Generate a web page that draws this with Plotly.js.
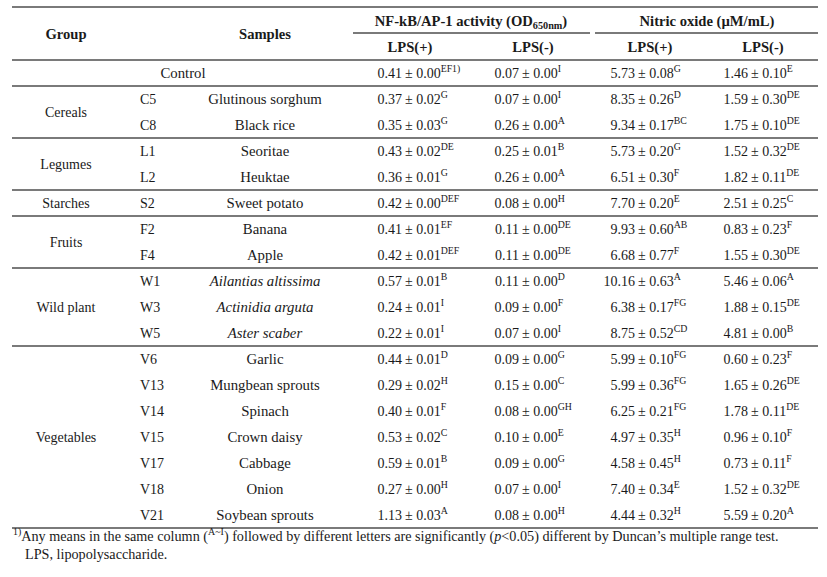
<!DOCTYPE html>
<html><head><meta charset="utf-8">
<script src="https://cdn.plot.ly/plotly-3.0.1.min.js"></script>
<style>html,body{margin:0;padding:0;background:#fff}</style>
</head><body><div id="chart" style="width:827px;height:577px"></div>
<script>
// ---- data ----
const groupNames = ["Cereals","Legumes","Starches","Fruits","Wild plant","Vegetables"];
const groupFirstRow = [1,3,5,6,8,11];
const groupLastRow = [2,4,5,7,10,17];
const codes = ["","C5","C8","L1","L2","S2","F2","F4","W1","W3","W5","V6","V13","V14","V15","V17","V18","V21"];
const samples = ["Control","Glutinous sorghum","Black rice","Seoritae","Heuktae","Sweet potato","Banana","Apple",
  "Ailantias altissima","Actinidia arguta","Aster scaber","Garlic","Mungbean sprouts","Spinach","Crown daisy","Cabbage","Onion","Soybean sprouts"];
const italicSample = [0,0,0,0,0,0,0,0,1,1,1,0,0,0,0,0,0,0];
const nfPlusMean = ["0.41","0.37","0.35","0.43","0.36","0.42","0.41","0.42","0.57","0.24","0.22","0.44","0.29","0.40","0.53","0.59","0.27","1.13"];
const nfPlusSD = ["0.00","0.02","0.03","0.02","0.01","0.00","0.01","0.01","0.01","0.01","0.01","0.01","0.02","0.01","0.02","0.01","0.00","0.03"];
const nfPlusLet = ["EF1)","G","G","DE","G","DEF","EF","DEF","B","I","I","D","H","F","C","B","H","A"];
const nfMinusMean = ["0.07","0.07","0.26","0.25","0.26","0.08","0.11","0.11","0.11","0.09","0.07","0.09","0.15","0.08","0.10","0.09","0.07","0.08"];
const nfMinusSD = ["0.00","0.00","0.00","0.01","0.00","0.00","0.00","0.00","0.00","0.00","0.00","0.00","0.00","0.00","0.00","0.00","0.00","0.00"];
const nfMinusLet = ["I","I","A","B","A","H","DE","DE","D","F","I","G","C","GH","E","G","I","H"];
const noPlusMean = ["5.73","8.35","9.34","5.73","6.51","7.70","9.93","6.68","10.16","6.38","8.75","5.99","5.99","6.25","4.97","4.58","7.40","4.44"];
const noPlusSD = ["0.08","0.26","0.17","0.20","0.30","0.20","0.60","0.77","0.63","0.17","0.52","0.10","0.36","0.21","0.35","0.45","0.34","0.32"];
const noPlusLet = ["G","D","BC","G","F","E","AB","F","A","FG","CD","FG","FG","FG","H","H","E","H"];
const noMinusMean = ["1.46","1.59","1.75","1.52","1.82","2.51","0.83","1.55","5.46","1.88","4.81","0.60","1.65","1.78","0.96","0.73","1.52","5.59"];
const noMinusSD = ["0.10","0.30","0.10","0.32","0.11","0.25","0.23","0.30","0.06","0.15","0.00","0.23","0.26","0.11","0.10","0.11","0.32","0.20"];
const noMinusLet = ["E","DE","DE","DE","DE","C","F","DE","A","DE","B","F","DE","DE","F","F","DE","A"];
const headerMain = ["NF-kB/AP-1 activity (OD<sub>650nm</sub>)","Nitric oxide (\u00b5M/mL)"];
const headerSub = ["LPS(+)","LPS(-)","LPS(+)","LPS(-)"];
const footnotes = ["<sup>1)</sup>Any means in the same column (<sup>A~I</sup>) followed by different letters are significantly (<i>p</i>&lt;0.05) different by Duncan\u2019s multiple range test.",
  "LPS, lipopolysaccharide."];

// ---- layout geometry ----
const FONT = "Liberation Serif";
const FS = 14;       // values, codes, groups
const FS_NAME = 14.8; // sample names
const FS_HEAD = 14.6;
const FS_NOTE = 14.2;
const COLOR = "#1a1a1a";
const xGroup = 66, xCode = 140, xSample = 265, xControl = 183;
const xSplit = [404, 521, 637, 750];   // position of the "±" split per value column
const xSubHead = [410, 533, 650, 763];
const xMainHead = [471, 707];
const underline = [[353, 590], [595, 818]];
const tableLeft = 12, tableRight = 818;
const rowOf = k => k + 2;  // data row k -> grid row

const traces = [];
function textTrace(xs, ys, texts, pos, size, bold) {
  traces.push({
    type: "scatter", mode: "text", x: xs, y: ys, text: texts,
    textposition: pos, cliponaxis: false, hoverinfo: "skip", showlegend: false,
    textfont: {family: FONT, size: size || FS, color: COLOR, weight: bold ? 700 : 400},
    marker: {size: 1}
  });
}

// header
textTrace([xGroup, xSample], [0.5, 0.5], ["Group", "Samples"], "middle center", FS_HEAD, true);
textTrace(xMainHead, [0, 0], headerMain, "middle center", FS_HEAD, true);
textTrace(xSubHead, [1, 1, 1, 1], headerSub, "middle center", FS_HEAD, true);

// groups
textTrace(groupNames.map(() => xGroup),
  groupNames.map((g, i) => (rowOf(groupFirstRow[i]) + rowOf(groupLastRow[i])) / 2),
  groupNames, "middle center");

// codes & samples
const rows = samples.map((s, k) => rowOf(k));
textTrace(codes.slice(1).map(() => xCode), rows.slice(1), codes.slice(1), "middle right");
textTrace(samples.map((s, k) => k === 0 ? xControl : xSample), rows,
  samples.map((s, k) => italicSample[k] ? "<i>" + s + "</i>" : s), "middle center", FS_NAME);

// values
const cols = [[nfPlusMean, nfPlusSD, nfPlusLet], [nfMinusMean, nfMinusSD, nfMinusLet],
              [noPlusMean, noPlusSD, noPlusLet], [noMinusMean, noMinusSD, noMinusLet]];
cols.forEach((c, j) => {
  textTrace(rows.map(() => xSplit[j] - 2), rows, c[0], "middle left");
  textTrace(rows.map(() => xSplit[j] + 1), rows,
    c[1].map((sd, k) => "\u00b1 " + sd + "<sup>" + c[2][k] + "</sup>"), "middle right");
});

// rules
const ruleRows = [-0.58, 1.46, 2.46, 4.46, 6.46, 7.46, 9.46, 12.46, 19.46];
const lx = [], ly = [];
ruleRows.forEach(r => { lx.push(tableLeft, tableRight, null); ly.push(r, r, null); });
underline.forEach(u => { lx.push(u[0], u[1], null); ly.push(0.42, 0.42, null); });
traces.push({type: "scatter", mode: "lines", x: lx, y: ly, line: {color: "#7a7a7a", width: 2},
  hoverinfo: "skip", showlegend: false, cliponaxis: false});

// footnotes
textTrace([13, 25], [19.82, 20.5], footnotes, "middle right", FS_NOTE);

const layout = {
  width: 827, height: 577, margin: {l: 0, r: 0, t: 0, b: 0},
  paper_bgcolor: "#fff", plot_bgcolor: "#fff", showlegend: false,
  xaxis: {range: [0, 827], visible: false, fixedrange: true},
  yaxis: {range: [(577 - 22) / 26, -22 / 26], visible: false, fixedrange: true},
  font: {family: FONT, size: FS, color: COLOR}
};
Plotly.newPlot("chart", traces, layout, {staticPlot: true, displayModeBar: false});
</script></body></html>
